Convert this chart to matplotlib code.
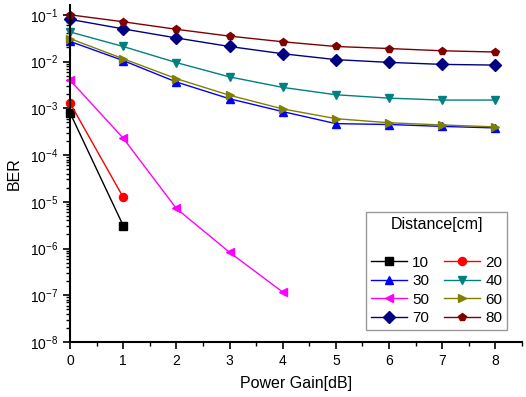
import matplotlib
matplotlib.use("Agg")
import matplotlib.pyplot as plt
import matplotlib.ticker as mticker

plt.rcParams['font.family'] = ['Liberation Sans', 'DejaVu Sans']
plt.rcParams['mathtext.fontset'] = 'custom'
plt.rcParams['mathtext.rm'] = 'Liberation Sans'
plt.rcParams['mathtext.it'] = 'Liberation Sans:italic'

gain = [0, 1, 2, 3, 4, 5, 6, 7, 8]
labels = ['10', '20', '30', '40', '50', '60', '70', '80']
colors = ['#000000', '#ff0000', '#0000ff', '#008080',
          '#ff00ff', '#808000', '#000080', '#800000']
markers = ['s', 'o', '^', 'v', '<', '>', 'D', 'p']

ber_10 = [8e-4, 3.1e-6]
ber_20 = [1.3e-3, 1.25e-5]
ber_30 = [2.7e-2, 1.05e-2, 3.65e-3, 1.6e-3, 8.5e-4, 4.7e-4, 4.5e-4, 4.1e-4, 3.8e-4]
ber_40 = [4.3e-2, 2.1e-2, 9.5e-3, 4.7e-3, 2.8e-3, 1.95e-3, 1.65e-3, 1.5e-3, 1.5e-3]
ber_50 = [4e-3, 2.3e-4, 7.2e-6, 8.3e-7, 1.17e-7]
ber_60 = [3.1e-2, 1.15e-2, 4.3e-3, 1.9e-3, 9.7e-4, 6e-4, 4.9e-4, 4.4e-4, 4e-4]
ber_70 = [8e-2, 5e-2, 3.2e-2, 2.1e-2, 1.47e-2, 1.1e-2, 9.6e-3, 8.7e-3, 8.4e-3]
ber_80 = [0.1, 7.1e-2, 4.9e-2, 3.5e-2, 2.65e-2, 2.1e-2, 1.9e-2, 1.7e-2, 1.6e-2]

series = [ber_10, ber_20, ber_30, ber_40, ber_50, ber_60, ber_70, ber_80]

fig = plt.figure(figsize=(5.26, 3.97), dpi=100)
ax = fig.add_axes([70 / 526, 1 - 342 / 397, 452 / 526, 337 / 397])

lines = []
for lab, ys, c, m in zip(labels, series, colors, markers):
    ln, = ax.plot(gain[:len(ys)], ys, color=c, marker=m, markersize=5.8,
                  linewidth=1.0, label=lab, clip_on=False)
    lines.append(ln)

ax.set_yscale('log')
ax.set_ylim(1e-8, 10 ** -0.79)
ax.set_xlim(0, 8.5)
ax.xaxis.set_major_locator(mticker.MultipleLocator(1))
ax.xaxis.set_minor_locator(mticker.MultipleLocator(0.5))
ax.yaxis.set_major_locator(mticker.LogLocator(base=10, numticks=12))
ax.yaxis.set_minor_locator(mticker.LogLocator(base=10, subs=range(2, 10), numticks=12))
ax.yaxis.set_minor_formatter(mticker.NullFormatter())

ax.spines['top'].set_visible(False)
ax.spines['right'].set_visible(False)
ax.spines['left'].set_linewidth(1.5)
ax.spines['bottom'].set_linewidth(1.5)
ax.tick_params(which='major', direction='out', length=5, width=1.2, labelsize=10)
ax.tick_params(which='minor', direction='out', length=3, width=1)

ax.set_xlabel('Power Gain[dB]', fontsize=11.5, labelpad=6)
ax.set_ylabel('BER', fontsize=11.5, labelpad=6)

# row-wise legend order: 10 20 / 30 40 / 50 60 / 70 80
order = [0, 2, 4, 6, 1, 3, 5, 7]
leg = ax.legend([lines[i] for i in order], [labels[i] for i in order],
                ncol=2, title='Distance[cm]', fontsize=11, title_fontsize=11.5,
                loc='lower right', bbox_to_anchor=(0.967, 0.036), borderaxespad=0,
                frameon=True, fancybox=False, edgecolor='#808080',
                handlelength=2.36, columnspacing=1.0, handletextpad=0.33,
                labelspacing=0.3, borderpad=0.3)
leg.get_frame().set_linewidth(1.0)
leg._legend_box.sep = 17

fig.savefig('out.png', dpi=100)
